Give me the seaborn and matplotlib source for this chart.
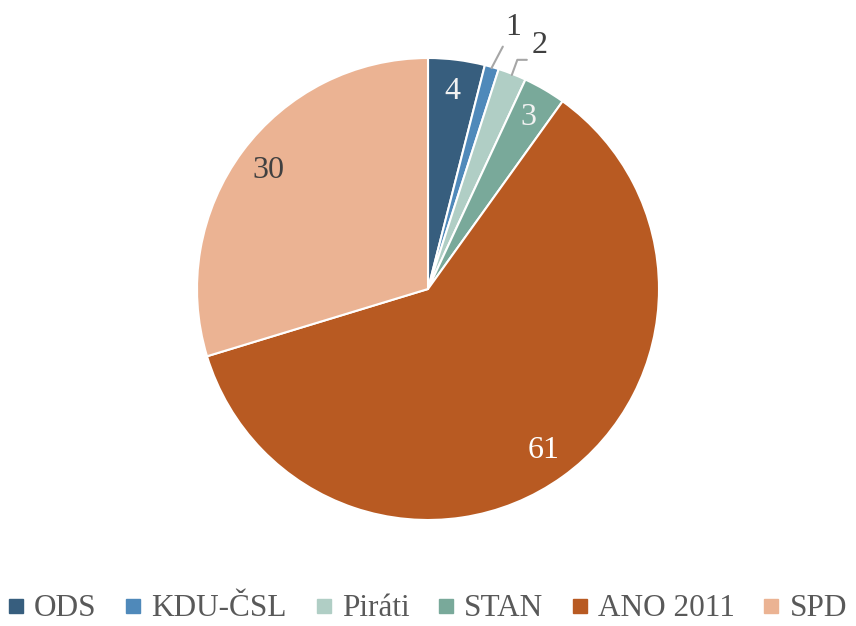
import numpy as np
import matplotlib
matplotlib.use("Agg")
import matplotlib.pyplot as plt
from matplotlib.lines import Line2D
import seaborn as sns

# data
parties = ["ODS", "KDU-ČSL", "Piráti", "STAN", "ANO 2011", "SPD"]
seats = [4, 1, 2, 3, 61, 30]
colors = ["#375E7E", "#4F89BA", "#B0CEC5", "#79A99A", "#B85A22", "#EBB393"]
label_colors = ["#F2F2F2", "#404040", "#404040", "#F2F2F2", "#FFFFFF", "#404040"]

# small slices get an outside label: (radius, angle offset in deg, connector)
outside = {
    "KDU-ČSL": (1.19, -2.0, "arc3"),
    "Piráti": (1.16, -3.2, "angle,angleA=180,angleB=70,rad=0"),
}

sns.set_theme(style="white")
plt.rcParams["font.family"] = ["Liberation Serif", "DejaVu Serif"]

fig = plt.figure(figsize=(8.56, 6.26), dpi=100)
ax = fig.add_axes([197 / 856, 106 / 626, 462 / 856, 462 / 626])

wedges, _ = ax.pie(seats, colors=sns.color_palette(colors), startangle=90, counterclock=False,
                   radius=1, wedgeprops=dict(edgecolor="white", linewidth=1.5))
ax.set_xlim(-1, 1)
ax.set_ylim(-1, 1)
ax.set_aspect("equal")
ax.axis("off")

for w, name, val, col in zip(wedges, parties, seats, label_colors):
    mid = np.deg2rad((w.theta1 + w.theta2) / 2)
    if name not in outside:
        r = 0.86
        ax.text(r * np.cos(mid), r * np.sin(mid), str(val), ha="center",
                va="center", fontsize=23, color=col)
        continue
    rt, off, conn = outside[name]
    tmid = mid + np.deg2rad(off)
    edge = (0.995 * np.cos(mid), 0.995 * np.sin(mid))
    ax.annotate(str(val), xy=edge, xytext=(rt * np.cos(tmid), rt * np.sin(tmid)),
                ha="center", va="center", fontsize=23, color=col, annotation_clip=False,
                arrowprops=dict(arrowstyle="-", color="#A6A6A6", lw=1.5, relpos=(0, 0),
                                shrinkA=1, shrinkB=0, connectionstyle=conn))

handles = [Line2D([], [], marker="s", linestyle="none", markersize=9.5,
                  markerfacecolor=c, markeredgecolor=c) for c in colors]
fig.legend(handles, parties, loc="center", bbox_to_anchor=(0.5, 1 - 609 / 626), ncol=6,
           frameon=False, fontsize=22.5, handlelength=0.45, handletextpad=0.35,
           columnspacing=0.95, labelcolor="#595959", borderpad=0, borderaxespad=0)

fig.savefig("out.png", dpi=100)
